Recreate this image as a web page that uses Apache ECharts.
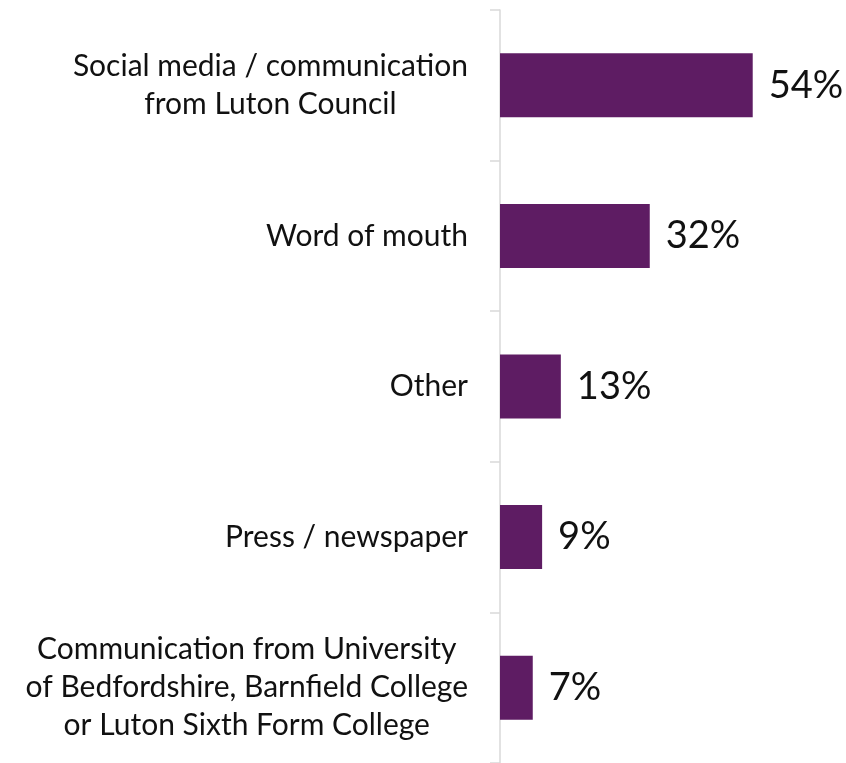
<!DOCTYPE html>
<html lang="en">
  <head>
    <meta charset="UTF-8" />
    <title>How did you hear about it</title>
    <script src="https://cdn.jsdelivr.net/npm/echarts@6/dist/echarts.min.js"></script>
    <style>
      body { margin: 0; background: #fff; }
    </style>
  </head>
  <body>
    <div id="main" style="width: 846px; height: 763px"></div>
    <script type="text/javascript">
      const categories = [
        "Social media / communication\nfrom Luton Council",
        "Word of mouth",
        "Other",
        "Press / newspaper",
        "Communication from University\nof Bedfordshire, Barnfield College\nor Luton Sixth Form College"
      ];
      const values = [54, 32, 13, 9, 7];

      var myChart = echarts.init(document.getElementById("main"));

      var option = {
        animation: false,
        textStyle: { fontFamily: "Lato" },
        grid: { left: 500, top: 10, bottom: -2, width: 327.6 },
        xAxis: {
          type: "value",
          min: 0,
          max: 70,
          show: false
        },
        yAxis: {
          type: "category",
          inverse: true,
          data: categories,
          axisLine: { show: true, lineStyle: { color: "#d9d9d9", width: 1.5 } },
          axisTick: { show: true, length: 10, lineStyle: { color: "#d9d9d9", width: 1.5 } },
          axisLabel: {
            margin: 32,
            lineHeight: 38,
            formatter: function (v) {
              return v.split("\n").map((s) => "{c|" + s + "}").join("\n");
            },
            rich: {
              c: { align: "center", fontSize: 30, lineHeight: 38, color: "#111", fontFamily: "Lato" }
            }
          }
        },
        series: [
          {
            name: "Share",
            type: "bar",
            data: values,
            barWidth: 64,
            itemStyle: { color: "#5e1c63" },
            label: {
              show: true,
              position: "right",
              distance: 16,
              formatter: "{c}%",
              fontSize: 38,
              color: "#111",
              fontFamily: "Lato"
            }
          }
        ]
      };

      myChart.setOption(option);
    </script>
  </body>
</html>
